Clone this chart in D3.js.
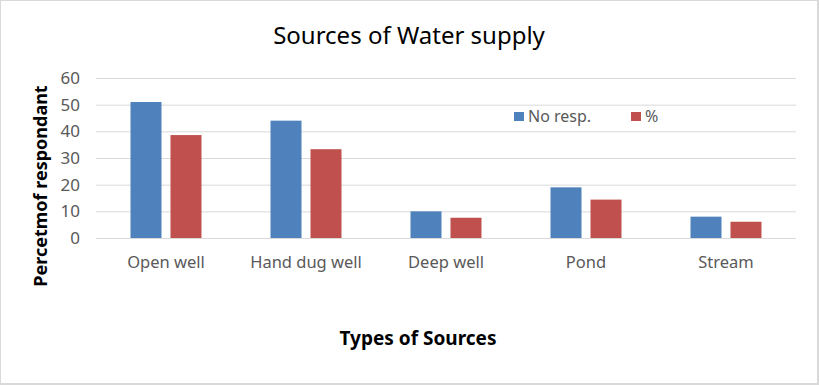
<!DOCTYPE html>
<html>
<head>
<meta charset="utf-8">
<script src="https://cdn.jsdelivr.net/npm/d3@7"></script>
<style>
    body { margin: 0; background: #fff; }
    svg text { font-family: "Noto Sans", sans-serif; }
</style>
</head>
<body>
<div id="chart"></div>
<script>
var categories = ["Open well", "Hand dug well", "Deep well", "Pond", "Stream"];
var seriesNames = ["No resp.", "%"];
var noResp = [51, 44, 10, 19, 8];
var pct = [38.6, 33.3, 7.6, 14.4, 6.1];
var yTicks = [0, 10, 20, 30, 40, 50, 60];
var colors = ["#4f81bd", "#c0504d"];

var chartTitle = "Sources of Water supply";
var xTitle = "Types of Sources";
var yTitle = "Percetmof respondant";

// rows for the grouped bars
var rows = categories.map(function(c, i) {
    return {text: c, values: [noResp[i], pct[i]]};
});

var totalW = 819, totalH = 385;
var margin = {top: 78, right: 23, bottom: 147, left: 96};
var width = totalW - margin.left - margin.right;
var height = totalH - margin.top - margin.bottom;

var svg = d3.select("#chart")
    .append("svg")
    .attr("width", totalW)
    .attr("height", totalH);

// outer border
svg.append("rect")
    .attr("x", 0).attr("y", 0)
    .attr("width", totalW - 1).attr("height", totalH - 1)
    .attr("fill", "none")
    .attr("stroke", "#d9d9d9")
    .attr("stroke-width", 2);

var chart = svg.append("g")
    .attr("transform", "translate(" + margin.left + "," + margin.top + ")");

var x0 = d3.scaleBand()
    .domain(categories)
    .range([0, width])
    .paddingInner(0.493)
    .paddingOuter(0.2465);

var x1 = d3.scaleBand()
    .domain(d3.range(seriesNames.length))
    .range([0, x0.bandwidth()])
    .paddingInner(0.225);

var y = d3.scaleLinear()
    .domain([0, 60])
    .range([height, 0]);

// gridlines + y labels
var yAxis = chart.append("g")
    .attr("class", "axis y")
    .call(d3.axisLeft(y).tickValues(yTicks).tickSize(-width).tickPadding(16));
yAxis.select(".domain").remove();
yAxis.selectAll("line").attr("stroke", "#d9d9d9");
yAxis.selectAll("text")
    .attr("fill", "#595959")
    .attr("font-size", "17px")
    .style("font-family", "Noto Sans");

// bars
var groups = chart.selectAll(".cat")
    .data(rows)
    .enter().append("g")
    .attr("class", "cat")
    .attr("transform", function(d) { return "translate(" + x0(d.text) + ",0)"; });

groups.selectAll("rect")
    .data(function(d) { return d.values; })
    .enter().append("rect")
    .attr("x", function(d, i) { return x1(i); })
    .attr("width", x1.bandwidth())
    .attr("y", function(d) { return y(d); })
    .attr("height", function(d) { return height - y(d); })
    .attr("fill", function(d, i) { return colors[i]; });

// category labels
var xAxis = chart.append("g")
    .attr("class", "axis x")
    .attr("transform", "translate(0," + height + ")")
    .call(d3.axisBottom(x0).tickSize(0).tickPadding(18));
xAxis.select(".domain").remove();
xAxis.selectAll("text")
    .attr("fill", "#595959")
    .attr("font-size", "16.5px")
    .style("font-family", "Noto Sans");

// legend
var legend = svg.append("g")
    .attr("transform", "translate(514,112)");

var legendItem = legend.selectAll(".leg")
    .data(seriesNames)
    .enter().append("g")
    .attr("class", "leg")
    .attr("transform", function(d, i) { return "translate(" + (i * 117) + ",0)"; });

legendItem.append("rect")
    .attr("width", 10).attr("height", 9)
    .attr("fill", function(d, i) { return colors[i]; });

legendItem.append("text")
    .attr("x", 14)
    .attr("y", 9.5)
    .attr("fill", "#595959")
    .attr("font-size", "16px")
    .text(function(d) { return d; });

// titles
svg.append("text")
    .attr("x", 409)
    .attr("y", 44)
    .attr("text-anchor", "middle")
    .attr("font-size", "24px")
    .attr("fill", "#000")
    .text(chartTitle);

svg.append("text")
    .attr("x", 418)
    .attr("y", 345)
    .attr("text-anchor", "middle")
    .attr("font-size", "19px")
    .attr("font-weight", "bold")
    .attr("fill", "#000")
    .text(xTitle);

svg.append("text")
    .attr("transform", "translate(47," + 186 + ") rotate(-90)")
    .attr("text-anchor", "middle")
    .attr("font-size", "18px")
    .attr("font-weight", "bold")
    .attr("fill", "#000")
    .text(yTitle);
</script>
</body>
</html>
